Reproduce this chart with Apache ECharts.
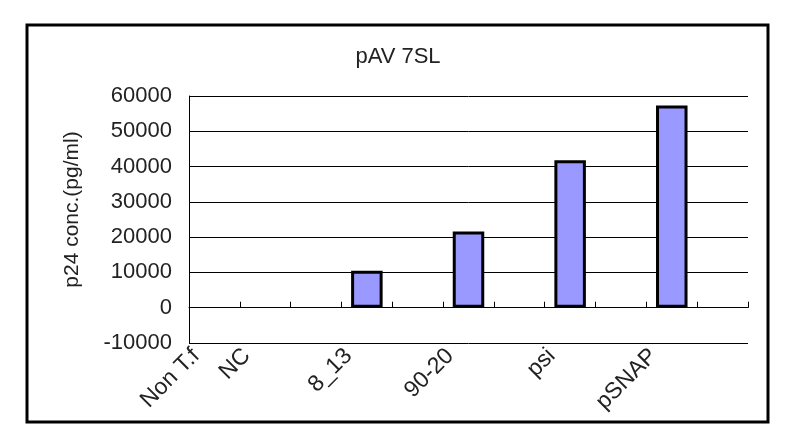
<!DOCTYPE html>
<html>
<head>
<meta charset="utf-8">
<script src="https://cdn.jsdelivr.net/npm/echarts@6/dist/echarts.min.js"></script>
<style>
  html, body { margin: 0; padding: 0; background: #fff; }
  #chart { width: 796px; height: 437px; }
</style>
</head>
<body>
<div id="chart"></div>
<script>
// 原表里有空白列，所以类别里留了空位
var categories = ["Non T.f", "NC", "", "8_13", "", "90-20", "", "psi", "", "pSNAP", ""];
var p24Values = [null, null, null, 10500, null, 21600, null, 41800, null, 57300, null];
var yTicks = { min: -10000, max: 60000, interval: 10000 };

var chart = echarts.init(document.getElementById("chart"));
var font = "Liberation Sans";

var option = {
  animation: false,
  title: {
    text: "pAV 7SL",
    left: "center",
    top: 41,
    textStyle: { fontFamily: font, fontSize: 22, fontWeight: "normal", color: "#222" }
  },
  graphic: [
    {
      type: "rect",
      shape: { x: 27, y: 25, width: 741, height: 397 },
      style: { fill: null, stroke: "#000", lineWidth: 3 },
      silent: true
    }
  ],
  grid: { left: 189, right: 48, top: 96, bottom: 94 },
  xAxis: [
    {
      type: "category",
      data: categories,
      position: "bottom",
      axisLine: { show: false, onZero: false },
      axisTick: { show: false },
      axisLabel: {
        interval: 0,
        rotate: 45,
        margin: -9,
        padding: [0, 26, 0, 0],
        fontFamily: font,
        fontSize: 23,
        color: "#222"
      }
    },
    {
      // 0 线上的刻度，用序号做类别避免重名
      type: "category",
      data: categories.map(function (c, i) { return "c" + i; }),
      position: "bottom",
      axisLine: { show: true, onZero: true, lineStyle: { color: "#000", width: 1 } },
      axisTick: { show: true, interval: 0, inside: true, length: 6, lineStyle: { color: "#000" } },
      axisLabel: { show: false, interval: 0 }
    }
  ],
  yAxis: {
    type: "value",
    min: yTicks.min,
    max: yTicks.max,
    interval: yTicks.interval,
    name: "p24 conc.(pg/ml)",
    nameLocation: "middle",
    nameGap: 106,
    nameTextStyle: { fontFamily: font, fontSize: 21, color: "#222", padding: [0, 0, 0, 20] },
    axisLine: { show: true, lineStyle: { color: "#000", width: 1 } },
    axisTick: { show: false },
    axisLabel: {
      margin: 17,
      fontFamily: font,
      fontSize: 22,
      color: "#222",
      formatter: function (v) { return String(v); }
    },
    splitLine: { show: true, lineStyle: { color: "#000", width: 1 } }
  },
  series: [
    {
      type: "bar",
      xAxisIndex: 0,
      data: p24Values,
      barWidth: "62%",
      itemStyle: { color: "#9999ff", borderColor: "#000", borderWidth: 3 }
    }
  ]
};
chart.setOption(option);
</script>
</body>
</html>
